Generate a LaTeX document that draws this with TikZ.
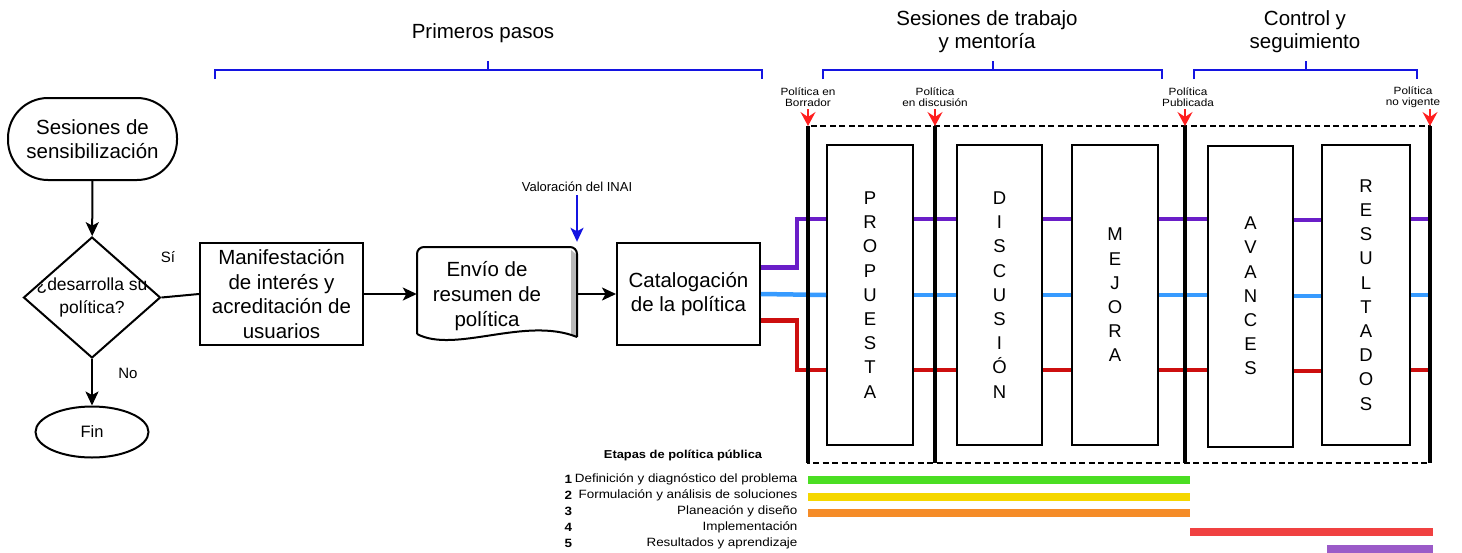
\documentclass[tikz,border=0pt]{standalone}
\usepackage{fontspec}
\setmainfont{Liberation Sans}
\newfontfamily\ancha[FakeStretch=1.12]{Liberation Sans}
\usetikzlibrary{shapes.geometric,arrows.meta}

\definecolor{morado}{RGB}{106,30,200}
\definecolor{celeste}{RGB}{55,155,255}
\definecolor{rojo}{RGB}{205,15,15}
\definecolor{azul}{RGB}{20,20,225}
\definecolor{marca}{RGB}{255,30,30}
\definecolor{verdeb}{RGB}{75,222,35}
\definecolor{amarb}{RGB}{245,215,0}
\definecolor{naranb}{RGB}{245,140,40}
\definecolor{rojob}{RGB}{240,65,65}
\definecolor{moradob}{RGB}{155,90,200}

\begin{document}
\begin{tikzpicture}[x=1pt,y=-1pt,
		caja/.style={draw, line width=2pt, align=center, inner sep=0pt, font=\fontsize{20.5}{24.5}\selectfont},
		etapa/.style={draw, line width=2pt, align=center, inner sep=0pt, minimum width=86pt, minimum height=300pt, font=\fontsize{18.5}{24.2}\selectfont},
		titulo/.style={align=center, font=\fontsize{20.5}{23}\selectfont},
		hito/.style={align=center, font=\ancha\fontsize{10.5}{10.5}\selectfont},
		leyenda/.style={font=\ancha\fontsize{12}{14}\selectfont},
		flecha/.style={line width=2pt, -{Stealth[length=14pt,width=13pt,inset=3.5pt]}},
		marcador/.style={marca, line width=1.5pt, -{Stealth[length=14pt,width=15pt,inset=5pt]}},
		llave/.style={draw=azul, line width=2.4pt},
		linea/.style={line width=4.5pt},
		barra/.style={line width=8pt}]
	\useasboundingbox (0,0) rectangle (1462,552);

	\node[caja, rounded corners=40pt, minimum width=169pt, minimum height=82pt] (sens) at (92.5,139) {Sesiones de\\sensibilización};
	\node[draw, line width=2pt, diamond, minimum width=137pt, minimum height=121pt, inner sep=0pt] (dec) at (92,297.5) {};
	\node[align=center, font=\fontsize{17.5}{23}\selectfont] (decq) at (dec) {¿desarrolla su\\política?};
	\node[draw, line width=2pt, ellipse, minimum width=113pt, minimum height=51pt, inner sep=0pt, font=\fontsize{16.5}{20}\selectfont] (fin) at (92,432) {Fin};
	\node[font=\fontsize{15}{17}\selectfont] (si) at (168,257) {Sí};
	\node[font=\fontsize{15}{17}\selectfont] (no) at (128,373) {No};
	\node[caja, minimum width=163pt, minimum height=102pt] (manif) at (281.5,294) {Manifestación\\de interés y\\acreditación de\\usuarios};
	\node[minimum width=160pt, minimum height=94pt, inner sep=0pt] (envio) at (497,294) {};
	\fill[gray!55] (571,250) -- (577,255) -- (577,336) -- (571,334) -- cycle;
	\draw[line width=2pt, rounded corners=7pt] (417,334) -- (417,247) -- (577,247) -- (577,337);
	\draw[line width=2pt] (417,334) .. controls (455,354) and (525,316) .. (577,337);
	\node[align=center, font=\fontsize{20.5}{25}\selectfont] (envioq) at (487,296) {Envío de\\resumen de\\política};
	\node[caja, minimum width=143pt, minimum height=102pt] (cat) at (688.5,294) {Catalogación\\de la política};
	\node[font=\fontsize{13}{15}\selectfont] (inai) at (577,187) {Valoración del INAI};

	\path[flecha]
	(sens) edge (dec)
	(dec) edge (fin)
	(manif) edge (envio)
	(envio) edge (cat);
	\draw[line width=2pt] (dec.east) -- (manif.west);
	\draw[flecha, azul, shorten >=5pt] (inai.south) -- (inai.south |- envio.north);

	\foreach \a/\b/\c in {215/762/488, 823/1162/993, 1194/1417/1306}{
		\draw[llave] (\a,79) -- (\a,70) -- (\b,70) -- (\b,79);
		\draw[llave] (\c,70) -- (\c,61);
	}
	\node[titulo] (primeros) at (483,33) {Primeros pasos};
	\node[titulo] (sesiones) at (987,31.5) {Sesiones de trabajo\\y mentoría};
	\node[titulo] (control) at (1305,31.5) {Control y\\seguimiento};

	\foreach \n/\x in {h1/808, h2/935, h3/1185, h4/1430}
		\coordinate (\n) at (\x,126);
	\node[hito] (borrador) at (808,97) {Política en\\Borrador};
	\node[hito] (discusion) at (935,97) {Política\\en discusión};
	\node[hito] (publicada) at (1188,97) {Política\\Publicada};
	\node[hito] (novigente) at (1413,97) {Política\\no vigente};

	\node[etapa] (prop) at (870,295) {P\\R\\O\\P\\U\\E\\S\\T\\A};
	\node[etapa, minimum width=85pt] (disc) at (999.5,295) {D\\I\\S\\C\\U\\S\\I\\Ó\\N};
	\node[etapa] (mej) at (1115,295) {M\\E\\J\\O\\R\\A};
	\node[etapa, minimum width=85pt, minimum height=301pt] (avan) at (1250.5,296) {A\\V\\A\\N\\C\\E\\S};
	\node[etapa, minimum width=88pt] (res) at (1366,295) {R\\E\\S\\U\\L\\T\\A\\D\\O\\S};
	\coordinate (cierre) at (1430,295);

	\draw[linea, morado] ([yshift=26.5pt]cat.east) -- ++(36,0) |- ([yshift=76pt]prop.west);
	\draw[linea, celeste] (cat.east) -- (prop.west);
	\draw[linea, rojo] ([yshift=-26.5pt]cat.east) -- ++(36,0) |- ([yshift=-75pt]prop.west);
	\foreach \c/\s in {morado/76, celeste/0, rojo/-75}{
		\foreach \a/\b in {prop/disc, disc/mej, mej/avan, avan/res}
			\draw[linea, \c] ([yshift=\s pt]\a.east) -- ([yshift=\s pt]\a.east -| \b.west);
		\draw[linea, \c] ([yshift=\s pt]res.east) -- ([yshift=\s pt]cierre);
	}

	\draw[line width=2.2pt, dash pattern=on 6pt off 3.5pt] (h1) rectangle ([yshift=-337pt]h4);
	\foreach \n in {h1,h2,h3,h4}{
		\draw[line width=4.5pt] (\n) -- ([yshift=-337pt]\n);
		\draw[marcador] ([yshift=17pt]\n) -- (\n);
	}

	\node[font=\ancha\bfseries\fontsize{11.5}{14}\selectfont] (etapas) at (683,455) {Etapas de política pública};
	\foreach \n/\t/\y in {1/Definición y diagnóstico del problema/479, 2/Formulación y análisis de soluciones/495, 3/Planeación y diseño/511, 4/Implementación/527, 5/Resultados y aprendizaje/543}{
		\node[leyenda, font=\ancha\bfseries\fontsize{12}{14}\selectfont, anchor=west] (num\n) at (561,\y) {\n};
		\node[leyenda, anchor=east] (etq\n) at (801,\y) {\t};
	}
	\draw[barra, verdeb] (808,480) -- (1190,480);
	\draw[barra, amarb] (808,497) -- (1190,497);
	\draw[barra, naranb] (808,513) -- (1190,513);
	\draw[barra, rojob] (1190,532) -- (1433,532);
	\draw[barra, moradob] (1327,549) -- (1433,549);
\end{tikzpicture}
\end{document}
